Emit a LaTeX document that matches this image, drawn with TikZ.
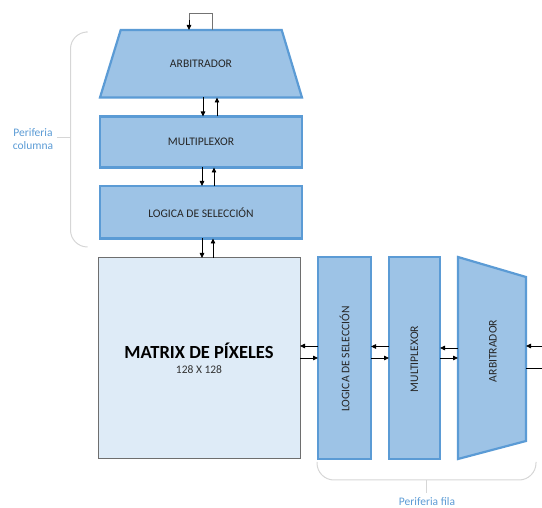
\documentclass[tikz,border=0pt]{standalone}
\usepackage{fontspec}
\setmainfont{Carlito}
\usetikzlibrary{arrows.meta}
\definecolor{boxfill}{HTML}{9DC3E6}
\definecolor{boxline}{HTML}{5B9BD5}
\definecolor{matfill}{HTML}{DEEBF7}
\definecolor{matline}{HTML}{6E6E6E}
\definecolor{bracecol}{HTML}{D6D6D6}
\definecolor{labelcol}{HTML}{5B9BD5}
\begin{document}
\begin{tikzpicture}[x=1pt,y=-1pt,
  block/.style={draw=boxline,fill=boxfill,line width=2.2pt,line join=miter},
  blocktext/.style={font=\fontsize{11.6}{13}\selectfont,text=black!85},
  sig/.style={line width=0.8pt,-{Triangle[length=5pt,width=4.5pt]}},
  wire/.style={line width=0.8pt},
  loopwire/.style={line width=0.9pt,draw=black!55},
  bracket/.style={draw=bracecol,line width=1pt,rounded corners=17pt},
  bracelabel/.style={text=labelcol,font=\fontsize{11.5}{13}\selectfont,align=center}]
\useasboundingbox (0,0) rectangle (542,508);

% ---- column periphery (top) ----
\draw[block] (120.7,30) -- (281.7,30) -- (302,97.5) -- (100,97.5) -- cycle;
\node[blocktext] (arbc) at (201,63.5) {ARBITRADOR};
\coordinate (arbcT1) at (189,30);
\coordinate (arbcT2) at (212,30);

\draw[block] (100,116.5) rectangle (302,167.5);
\node[blocktext] (muxc) at (201,142) {MULTIPLEXOR};

\draw[block] (100,186) rectangle (302,238.5);
\node[blocktext] (logc) at (201,212.5) {LOGICA DE SELECCIÓN};

% ---- pixel matrix ----
\draw[draw=matline,fill=matfill,line width=1pt] (98,258) rectangle (300,459);
\node[font=\fontsize{18.5}{20}\selectfont\bfseries,text=black] (mat) at (199,351) {MATRIX DE PÍXELES};
\node[font=\fontsize{11.5}{13}\selectfont,text=black!80] (matsz) at (199,369.5) {128 X 128};

% ---- row periphery (right) ----
\draw[block] (318,257) rectangle (371,459);
\node[blocktext,rotate=90] (logr) at (344.5,359) {LOGICA DE SELECCIÓN};

\draw[block] (389,257) rectangle (440,459);
\node[blocktext,rotate=90] (muxr) at (414.5,359) {MULTIPLEXOR};

\draw[block] (458,257) -- (526,277) -- (526,441) -- (458,459) -- cycle;
\node[blocktext,rotate=90] (arbr) at (493,351) {ARBITRADOR};

% ---- vertical signal pairs ----
\coordinate (a1) at (203,97.5);  \coordinate (b1) at (203,116.5);
\coordinate (a2) at (217,116.5); \coordinate (b2) at (217,97.5);
\draw[sig] (a1) -- (b1);
\draw[sig] (a2) -- (b2);
\coordinate (a3) at (202,167.5); \coordinate (b3) at (202,186);
\coordinate (a4) at (214,186);   \coordinate (b4) at (214,167.5);
\draw[sig] (a3) -- (b3);
\draw[sig] (a4) -- (b4);
\coordinate (a5) at (202,238.5); \coordinate (b5) at (202,258);
\coordinate (a6) at (213,258);   \coordinate (b6) at (213,238.5);
\draw[sig] (a5) -- (b5);
\draw[sig] (a6) -- (b6);

% ---- feedback loop on top arbiter ----
\draw[loopwire] (arbcT2) -- (212,13.5) -- (189,13.5) -- (189,22);
\draw[sig] (189,20) -- (arbcT1);

% ---- horizontal signal pairs ----
\coordinate (h1a) at (318,346); \coordinate (h1b) at (300,346);
\coordinate (h1c) at (300,358); \coordinate (h1d) at (318,358);
\draw[sig] (h1a) -- (h1b);
\draw[sig] (h1c) -- (h1d);
\coordinate (h2a) at (389,346.5); \coordinate (h2b) at (371,346.5);
\coordinate (h2c) at (371,358);   \coordinate (h2d) at (389,358);
\draw[sig] (h2a) -- (h2b);
\draw[sig] (h2c) -- (h2d);
\coordinate (h3a) at (458,348); \coordinate (h3b) at (440,348);
\coordinate (h3c) at (440,358); \coordinate (h3d) at (458,358);
\draw[sig] (h3a) -- (h3b);
\draw[sig] (h3c) -- (h3d);
\coordinate (inR) at (542,346); \coordinate (inA) at (526,346);
\coordinate (outA) at (526,368); \coordinate (outR) at (542,368);
\draw[sig] (inR) -- (inA);
\draw[wire] (outA) -- (outR);

% ---- grouping brackets ----
\draw[bracket] (86,32) -- (70.5,32) -- (70.5,247) -- (86,247);
\coordinate (tickc) at (70.5,138);
\coordinate (tickc2) at (57,138);
\draw[draw=bracecol,line width=1pt] (tickc) -- (tickc2);
\node[bracelabel] (perc) at (33,139) {Periferia\\columna};

\draw[bracket] (317,462) -- (317,480) -- (536,480) -- (536,462);
\coordinate (tickf) at (426,480);
\coordinate (tickf2) at (426,493);
\draw[draw=bracecol,line width=1pt] (tickf) -- (tickf2);
\node[bracelabel] (perf) at (427,501.5) {Periferia fila};
\end{tikzpicture}
\end{document}
